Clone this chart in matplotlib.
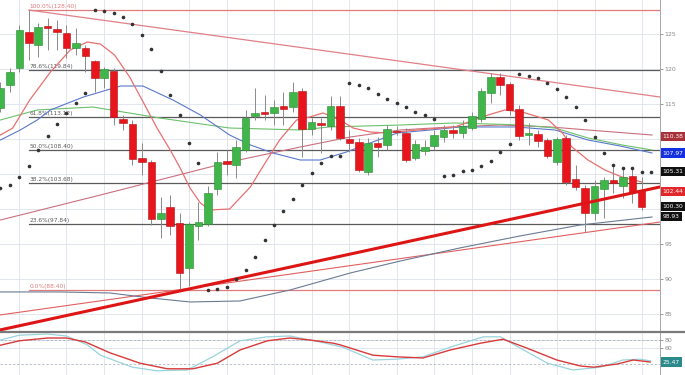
import matplotlib
matplotlib.use('Agg')
import matplotlib.pyplot as plt
from matplotlib.lines import Line2D

# Candles (daily)
opens = [114.40, 117.69, 120.11, 125.26, 123.40, 126.11, 125.69, 125.11, 122.97, 122.97,
         121.12, 118.69, 119.69, 112.83, 112.12, 107.26, 106.69, 98.54, 100.26, 97.97,
         91.54, 97.54, 97.83, 102.83, 106.83, 106.26, 108.40, 113.26, 113.83, 113.69,
         114.69, 114.54, 116.83, 111.40, 112.26, 111.83, 114.69, 109.97, 109.54, 105.26,
         109.40, 109.12, 111.12, 110.83, 107.26, 108.26, 108.97, 110.26, 111.26, 110.83,
         111.54, 112.83, 116.54, 118.83, 117.83, 114.26, 110.54, 110.69, 109.83, 106.69,
         110.12, 104.26, 102.97, 99.40, 102.83, 104.12, 103.26, 104.69, 102.69]
closes = [117.26, 119.54, 125.54, 123.69, 125.97, 125.83, 125.26, 122.97, 123.69, 121.83,
          118.69, 119.97, 113.12, 112.26, 107.12, 106.69, 98.54, 99.40, 97.54, 90.83,
          97.83, 98.11, 102.26, 106.69, 106.40, 108.83, 112.97, 113.69, 113.54, 114.54,
          114.26, 116.69, 111.40, 112.40, 111.97, 114.69, 110.12, 109.40, 105.54, 109.40,
          108.83, 111.40, 110.97, 106.97, 109.26, 108.83, 110.54, 111.26, 110.83, 111.83,
          113.26, 116.83, 118.83, 117.69, 114.12, 110.40, 110.83, 109.69, 107.54, 109.97,
          103.83, 103.12, 99.40, 103.26, 104.12, 103.69, 104.54, 102.40, 100.26]
highs = [118.11, 120.11, 126.26, 128.40, 126.54, 127.26, 126.97, 126.26, 125.83, 123.40,
         121.26, 120.26, 120.11, 113.40, 112.69, 109.40, 106.97, 101.69, 101.97, 99.40,
         98.11, 100.97, 103.26, 108.12, 108.40, 109.83, 114.12, 117.26, 116.26, 115.54,
         116.69, 118.11, 117.26, 112.97, 112.97, 116.12, 116.12, 111.26, 110.12, 110.12,
         110.26, 111.97, 111.83, 111.54, 109.83, 109.83, 111.26, 111.97, 111.97, 112.69,
         113.83, 117.26, 119.40, 119.40, 118.11, 114.83, 112.26, 111.26, 110.12, 110.26,
         110.54, 106.26, 103.40, 104.12, 104.54, 106.26, 105.83, 105.83, 104.54]
lows = [113.83, 116.69, 119.54, 121.26, 121.69, 122.69, 122.69, 121.54, 121.97, 119.54,
        116.69, 117.26, 111.97, 111.26, 106.26, 104.83, 97.69, 95.83, 96.26, 88.40,
        89.00, 95.54, 97.54, 101.97, 104.83, 104.40, 108.12, 112.69, 112.69, 111.97,
        111.97, 113.83, 107.40, 110.54, 107.97, 111.26, 109.83, 108.12, 105.26, 104.83,
        107.40, 108.40, 110.54, 106.69, 106.97, 107.69, 108.40, 109.54, 110.12, 110.12,
        111.26, 112.40, 115.12, 116.26, 113.40, 109.83, 109.12, 108.83, 107.26, 106.26,
        103.40, 102.69, 96.69, 98.40, 98.69, 102.26, 101.54, 100.83, 99.83]

# moving averages (candle index, price)
ma_red_x = [0, 1.3, 3.1, 5.3, 7.4, 9.2, 10.6, 12.1, 13.7, 15.3, 16.6, 18.0, 19.0, 20.1, 21.2, 22.2,
            24.3, 26.5, 27.8, 29.6, 31.4, 32.8, 34.2, 36.0, 37.4, 39.2, 41.0, 44.2, 48.2, 51.7,
            53.5, 55.3, 58.1, 59.6, 60.6, 62.3, 64.1, 65.9, 68.0]
ma_red_y = [110.54, 111.54, 115.54, 119.54, 122.69, 123.83, 123.54, 121.97, 118.83, 114.83, 111.54,
            108.40, 105.97, 102.97, 100.83, 99.83, 99.97, 103.12, 105.97, 109.83, 112.69, 113.12,
            113.69, 112.69, 111.54, 110.97, 110.83, 111.26, 111.69, 113.40, 114.12, 113.83, 112.69,
            110.83, 108.83, 106.97, 105.54, 104.54, 103.83]
ma_blue_x = [0, 2.1, 3.9, 5.3, 8.8, 12.7, 15.1, 18.3, 21.2, 24.3, 26.5, 28.9, 31.8, 33.9, 36.7,
             39.2, 42.1, 45.6, 48.7, 54.6, 58.8, 62.3, 65.7, 69.1]
ma_blue_y = [109.83, 111.26, 112.69, 114.12, 115.97, 117.54, 117.54, 115.54, 113.40, 110.54, 109.12,
             107.97, 106.97, 106.97, 108.12, 109.40, 110.83, 111.26, 111.69, 111.69, 111.26, 109.83,
             108.97, 107.97]
ma_green_x = [0, 3.9, 9.8, 13.0, 16.9, 24.3, 31.8, 34.9, 42.4, 48.2, 55.3, 58.8, 62.3, 65.9, 69.1]
ma_green_y = [112.69, 114.12, 114.54, 113.83, 112.97, 111.54, 111.26, 111.69, 111.97, 112.26,
              111.97, 111.54, 110.12, 109.12, 108.40]
ma_pink_x = [0, 10.6, 24.3, 31.8, 37.1, 42.4, 47.7, 53.0, 58.3, 63.6, 69.1]
ma_pink_y = [98.40, 101.97, 106.69, 108.83, 110.26, 111.26, 111.69, 111.97, 111.69, 111.12, 110.54]
ma_long_x = [0, 6.3, 11.6, 15.9, 20.1, 25.4, 30.7, 37.1, 42.4, 48.7, 55.1, 61.5, 69.1]
ma_long_y = [88.12, 88.12, 87.97, 87.26, 86.69, 86.83, 88.40, 90.83, 92.54, 94.40, 96.12, 97.69, 98.83]

# parabolic SAR
sar = [102.97, 103.40, 104.54, 106.12, 108.40, 110.40, 112.12, 113.69, 115.12, 116.54,
       128.40, 128.26, 127.97, 127.40, 126.40, 124.83, 122.83, 119.69, 116.26, 113.40,
       109.40, 106.54, 88.40, 88.54, 88.83, 89.97, 91.26, 93.12, 95.54, 97.69,
       99.69, 101.40, 103.40, 105.12, 106.54, 107.54, 107.54, 117.97, 117.69, 117.26,
       116.40, 115.69, 115.12, 114.54, 113.83, 113.40, 112.83, 104.69, 104.83, 105.40,
       105.54, 106.12, 106.83, 108.12, 109.26, 119.26, 118.97, 118.69, 117.97, 117.12,
       115.97, 114.54, 112.69, 110.26, 107.97, 106.26, 105.83, 105.83, 105.26, 105.26]

# trend lines (x0, x1, p0, p1)
down_line = [3, 69.94, 128.40, 115.97]
thick_line = [-0.05, 69.94, 82.69, 103.12]
thin_line = [-0.05, 69.94, 84.83, 98.11]

# fibonacci retracement
fib_ratio = ['100.0%', '78.6%', '61.8%', '50.0%', '38.2%', '23.6%', '0.0%']
fib_price = [128.40, 119.84, 113.12, 108.40, 103.68, 97.84, 88.40]

# right side price boxes
box_vals = [110.38, 107.97, 105.31, 102.44, 100.30, 98.93]
box_cols = ['#a8303a', '#1530e0', '#111111', '#e3262a', '#111111', '#111111']

# stochastic
stk_x = [0, 2, 5, 7, 9.2, 10.6, 14, 16.6, 19.8, 22.5, 25.4, 28.3, 30.7, 33.9, 36.3, 39.5, 42, 44.8,
         47.7, 51.2, 53, 55.1, 58, 60.7, 63.6, 66, 67.8, 68.9]
stk_k = [80, 92, 95, 90, 68, 42, 12, 3, 5, 38, 78, 88, 90, 75, 62, 30, 32, 38,
         62, 88, 88, 60, 22, 5, 12, 30, 32, 28]
std_x = [0, 2, 5, 7, 9, 11.6, 14.8, 17.7, 20.4, 23, 25.4, 28.3, 30.7, 32.8, 35.3, 36, 39.5, 42,
         44.8, 47.7, 50.9, 53.3, 55.8, 59, 61.5, 62.9, 65.4, 67.1, 68.9]
std_d = [67, 78, 85, 85, 75, 48, 22, 8, 8, 22, 55, 78, 85, 80, 72, 68, 42, 38,
         35, 55, 72, 82, 60, 30, 15, 12, 20, 30, 25]

grid_idx = [2, 7, 11, 15, 20, 24, 29, 33, 37, 42, 46, 50, 54, 59, 63, 68]
price_ticks = [85, 90, 95, 100, 105, 110, 115, 120, 125]
price_ticklabels = ['85', '90', '95', '', '', '', '115', '120', '125']  # rest sit under the boxes

fig = plt.figure(figsize=(6.85, 3.75), dpi=100)
ax = fig.add_axes([0, 44 / 375, 660 / 685, 331 / 375])
ax2 = fig.add_axes([0, 0, 660 / 685, 42 / 375])

gridc = '#dde3ec'
for a in (ax, ax2):
    for s in ['top', 'left', 'bottom']:
        a.spines[s].set_visible(False)
    a.spines['right'].set_color('#999999')
    a.spines['right'].set_linewidth(0.6)
    a.yaxis.tick_right()
    a.tick_params(axis='y', length=2, width=0.6, colors='#888888', labelsize=4.5, pad=1)
    a.tick_params(axis='x', length=0, labelbottom=False)
    a.set_xticks(grid_idx)
    a.grid(True, color=gridc, lw=0.6)
    a.set_axisbelow(True)
    a.set_xlim(-0.05, 69.94)

ax.set_ylim(82.54, 129.83)
ax.set_yticks(price_ticks)
ax.set_yticklabels(price_ticklabels)

# fibonacci
for r, p in zip(fib_ratio, fib_price):
    col = '#e07b7b' if r in ('100.0%', '0.0%') else '#5a5a5a'
    ax.plot([3, 69.94], [p, p], color=col, lw=0.9, zorder=1)
    ax.text(3.1, p + 0.15, f'{r}({p:.2f})', color=col, fontsize=4.2, va='bottom', zorder=1)

# trend lines
ax.plot(down_line[:2], down_line[2:], color='#e08088', lw=0.9, zorder=2)
ax.plot(thin_line[:2], thin_line[2:], color='#e06060', lw=0.8, zorder=2)

# moving averages
ax.plot(ma_long_x, ma_long_y, color='#6c7b93', lw=0.8, zorder=2)
ax.plot(ma_pink_x, ma_pink_y, color='#c9707e', lw=0.8, zorder=2)
ax.plot(ma_green_x, ma_green_y, color='#6cc06c', lw=0.8, zorder=2)
ax.plot(ma_blue_x, ma_blue_y, color='#5a78cc', lw=0.8, zorder=2)
ax.plot(ma_red_x, ma_red_y, color='#e87070', lw=0.9, zorder=2)

# candles
idx = list(range(len(opens)))
ax.vlines(idx, lows, highs, color='#8a8a8a', lw=0.7, zorder=3)
up = [c >= o for o, c in zip(opens, closes)]
body_col = ['#3fb54a' if u else '#e8161c' for u in up]
edge_col = ['#2a8a33' if u else '#b01015' for u in up]
heights = [max(abs(c - o), 0.15) for o, c in zip(opens, closes)]
bottoms = [min(o, c) for o, c in zip(opens, closes)]
ax.bar(idx, heights, bottom=bottoms, width=0.8, color=body_col, edgecolor=edge_col,
       linewidth=0.4, zorder=4)

ax.plot(thick_line[:2], thick_line[2:], color='#dd1515', lw=2.2, zorder=5)

# SAR dots
ax.plot(range(len(sar)), sar, ls='none', marker='o', ms=1.6, color='#333333', zorder=6)

# price boxes
ytr = ax.get_yaxis_transform()
for v, c in zip(box_vals, box_cols):
    ax.text(1.004, v, f'{v:.2f}', transform=ytr, color='white', fontsize=4.3,
            va='center', ha='left', clip_on=False, zorder=10,
            bbox=dict(boxstyle='square,pad=0.35', fc=c, ec='none'))

# stochastic panel
ax2.set_ylim(-7.5, 97.5)
ax2.set_yticks([60, 80])
for lv in [80, 20]:
    ax2.axhline(lv, color='#b0b8c4', lw=0.6, ls=(0, (3, 2)))
ax2.plot(stk_x, stk_k, color='#9ad4dc', lw=0.9)
ax2.plot(std_x, std_d, color='#d83a3a', lw=1.0)
ax2.text(1.004, std_d[-1], '25.47', transform=ax2.get_yaxis_transform(), color='white',
         fontsize=4.3, va='center', ha='left', clip_on=False,
         bbox=dict(boxstyle='square,pad=0.35', fc='#2a8a8c', ec='none'))

fig.add_artist(Line2D([0, 1], [43 / 375, 43 / 375], color='#7a7a7a', lw=1.6))

fig.savefig('out.png', dpi=100, facecolor='white')
